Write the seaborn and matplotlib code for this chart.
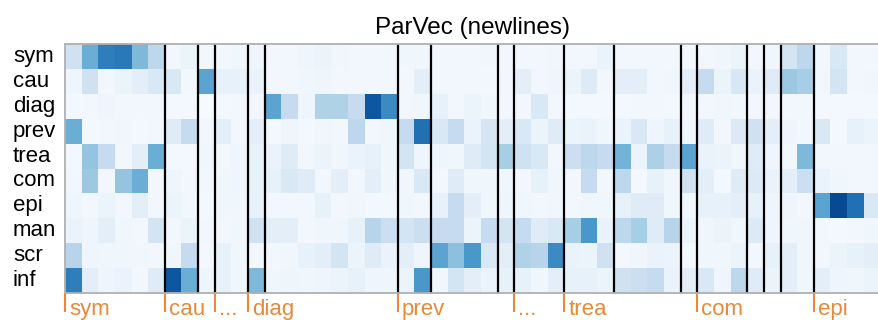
import numpy as np
import pandas as pd
import matplotlib
matplotlib.use("Agg")
import matplotlib.pyplot as plt
import matplotlib.transforms as mtransforms
import seaborn as sns

# Row categories (topic labels) and per-row attention weights over 49 positions
rows = ["sym", "cau", "diag", "prev", "trea", "com", "epi", "man", "scr", "inf"]

sym = [0.20, 0.50, 0.70, 0.72, 0.45, 0.28, 0.03, 0.06, 0.03, 0.03, 0.04, 0.05, 0.03, 0.03, 0.05, 0.06, 0.04,
       0.03, 0.03, 0.03, 0.04, 0.04, 0.03, 0.03, 0.03, 0.04, 0.03, 0.03, 0.03, 0.04, 0.03, 0.03, 0.07, 0.03,
       0.03, 0.03, 0.03, 0.03, 0.03, 0.04, 0.06, 0.03, 0.04, 0.18, 0.28, 0.03, 0.15, 0.03, 0.03]
cau = [0.05, 0.20, 0.03, 0.06, 0.10, 0.15, 0.15, 0.03, 0.55, 0.08, 0.08, 0.07, 0.03, 0.03, 0.04, 0.05, 0.03,
       0.03, 0.03, 0.03, 0.03, 0.10, 0.03, 0.03, 0.03, 0.03, 0.03, 0.10, 0.03, 0.05, 0.06, 0.13, 0.03, 0.10,
       0.10, 0.03, 0.04, 0.10, 0.25, 0.06, 0.16, 0.07, 0.12, 0.38, 0.35, 0.03, 0.18, 0.03, 0.04]
diag = [0.02, 0.03, 0.05, 0.03, 0.03, 0.03, 0.02, 0.02, 0.01, 0.02, 0.03, 0.03, 0.55, 0.25, 0.05, 0.32, 0.32,
        0.25, 0.85, 0.65, 0.03, 0.04, 0.08, 0.03, 0.06, 0.04, 0.03, 0.03, 0.15, 0.03, 0.02, 0.02, 0.02, 0.02,
        0.03, 0.03, 0.02, 0.03, 0.03, 0.04, 0.03, 0.03, 0.03, 0.03, 0.03, 0.02, 0.02, 0.02, 0.02]
prev = [0.50, 0.02, 0.03, 0.04, 0.02, 0.03, 0.12, 0.25, 0.03, 0.10, 0.03, 0.10, 0.02, 0.05, 0.02, 0.04, 0.03,
        0.28, 0.03, 0.04, 0.25, 0.75, 0.15, 0.25, 0.07, 0.17, 0.10, 0.15, 0.06, 0.12, 0.06, 0.07, 0.04, 0.07,
        0.15, 0.05, 0.08, 0.04, 0.12, 0.03, 0.14, 0.20, 0.10, 0.05, 0.03, 0.15, 0.02, 0.08, 0.06]
trea = [0.02, 0.40, 0.25, 0.03, 0.10, 0.50, 0.02, 0.02, 0.04, 0.03, 0.05, 0.08, 0.07, 0.12, 0.03, 0.06, 0.04,
        0.07, 0.08, 0.04, 0.18, 0.05, 0.05, 0.04, 0.12, 0.18, 0.35, 0.20, 0.15, 0.03, 0.22, 0.28, 0.25, 0.48,
        0.06, 0.33, 0.25, 0.55, 0.07, 0.06, 0.04, 0.12, 0.05, 0.03, 0.45, 0.03, 0.03, 0.03, 0.03]
com = [0.03, 0.38, 0.03, 0.40, 0.50, 0.03, 0.05, 0.03, 0.03, 0.04, 0.05, 0.08, 0.08, 0.15, 0.12, 0.03, 0.10,
       0.03, 0.10, 0.04, 0.04, 0.15, 0.03, 0.12, 0.04, 0.04, 0.04, 0.03, 0.08, 0.04, 0.03, 0.25, 0.03, 0.28,
       0.02, 0.08, 0.04, 0.20, 0.10, 0.02, 0.12, 0.14, 0.07, 0.10, 0.22, 0.07, 0.04, 0.03, 0.03]
epi = [0.05, 0.03, 0.06, 0.03, 0.10, 0.03, 0.06, 0.03, 0.02, 0.04, 0.04, 0.08, 0.03, 0.03, 0.03, 0.08, 0.03,
       0.04, 0.02, 0.02, 0.04, 0.03, 0.08, 0.25, 0.10, 0.04, 0.05, 0.04, 0.03, 0.04, 0.03, 0.04, 0.04, 0.08,
       0.12, 0.12, 0.04, 0.03, 0.08, 0.08, 0.10, 0.08, 0.05, 0.05, 0.03, 0.55, 0.90, 0.75, 0.15]
man = [0.07, 0.05, 0.10, 0.04, 0.03, 0.18, 0.03, 0.06, 0.03, 0.03, 0.04, 0.20, 0.10, 0.10, 0.03, 0.04, 0.04,
       0.08, 0.30, 0.22, 0.18, 0.22, 0.25, 0.25, 0.06, 0.25, 0.18, 0.25, 0.12, 0.15, 0.35, 0.60, 0.07, 0.28,
       0.35, 0.12, 0.30, 0.06, 0.04, 0.06, 0.04, 0.14, 0.05, 0.04, 0.04, 0.03, 0.02, 0.03, 0.04]
scr = [0.30, 0.05, 0.04, 0.04, 0.04, 0.03, 0.04, 0.25, 0.02, 0.08, 0.04, 0.03, 0.03, 0.04, 0.08, 0.10, 0.18,
       0.06, 0.12, 0.07, 0.10, 0.05, 0.55, 0.42, 0.60, 0.15, 0.10, 0.32, 0.30, 0.65, 0.07, 0.06, 0.20, 0.02,
       0.04, 0.07, 0.06, 0.02, 0.04, 0.04, 0.06, 0.03, 0.08, 0.10, 0.04, 0.03, 0.06, 0.08, 0.10]
inf = [0.70, 0.10, 0.05, 0.07, 0.03, 0.12, 0.85, 0.50, 0.05, 0.08, 0.04, 0.45, 0.04, 0.05, 0.04, 0.05, 0.06,
       0.08, 0.05, 0.05, 0.06, 0.60, 0.04, 0.18, 0.10, 0.07, 0.08, 0.08, 0.04, 0.10, 0.08, 0.08, 0.06, 0.20,
       0.22, 0.25, 0.07, 0.10, 0.15, 0.05, 0.28, 0.12, 0.06, 0.10, 0.04, 0.10, 0.05, 0.04, 0.06]

# Column positions where a new paragraph starts
boundaries = [6, 8, 9, 11, 12, 20, 22, 26, 27, 30, 33, 37, 38, 41, 42, 43, 45]

# Section markers along the bottom
section_pos = [0, 6, 9, 11, 20, 27, 30, 38, 45]
section_labels = ["sym", "cau", "...", "diag", "prev", "...", "trea", "com", "epi"]

matrix = pd.DataFrame([sym, cau, diag, prev, trea, com, epi, man, scr, inf], index=rows)
ncols = matrix.shape[1]

sns.set_style("white")
plt.rcParams["font.family"] = ["Liberation Sans", "DejaVu Sans"]
plt.rcParams["text.color"] = "black"
plt.rcParams["ytick.color"] = "black"

W, H = 879, 320
fig = plt.figure(figsize=(W / 100, H / 100), dpi=100)
cell_w = 16.64
left_px, top_px, bottom_px = 65, 44, 293
ax = fig.add_axes([left_px / W, 1 - bottom_px / H,
                   ncols * cell_w / W, (bottom_px - top_px) / H])

sns.heatmap(matrix, cmap="Blues", vmin=0, vmax=1, cbar=False, ax=ax,
            linewidths=0, xticklabels=False, yticklabels=rows)

for b in boundaries:
    ax.axvline(b, color="black", lw=1.6)

for spine in ax.spines.values():
    spine.set_visible(True)
    spine.set_color("#b0b0b0")
    spine.set_linewidth(1.3)

orange = "#E8893A"

# Row labels, left-aligned in the margin
ax.tick_params(axis="y", length=0, pad=37.5, labelsize=16, labelcolor="black")
for lab in ax.get_yticklabels():
    lab.set_rotation(0)
    lab.set_horizontalalignment("left")
    lab.set_verticalalignment("center")

# Orange section ticks with labels beside them
ax.set_xticks(section_pos)
ax.set_xticklabels(section_labels)
ax.tick_params(axis="x", bottom=True, length=14, width=1.5, color=orange,
               labelcolor=orange, labelsize=16, pad=-9.5)
shift = mtransforms.ScaledTranslation(4 / 100, 0, fig.dpi_scale_trans)
for lab in ax.get_xticklabels():
    lab.set_horizontalalignment("left")
    lab.set_transform(lab.get_transform() + shift)

ax.set_xlabel("")
ax.set_ylabel("")
ax.set_title("ParVec (newlines)", fontsize=17.5, pad=7, color="black")

fig.savefig("out.png", dpi=100)
